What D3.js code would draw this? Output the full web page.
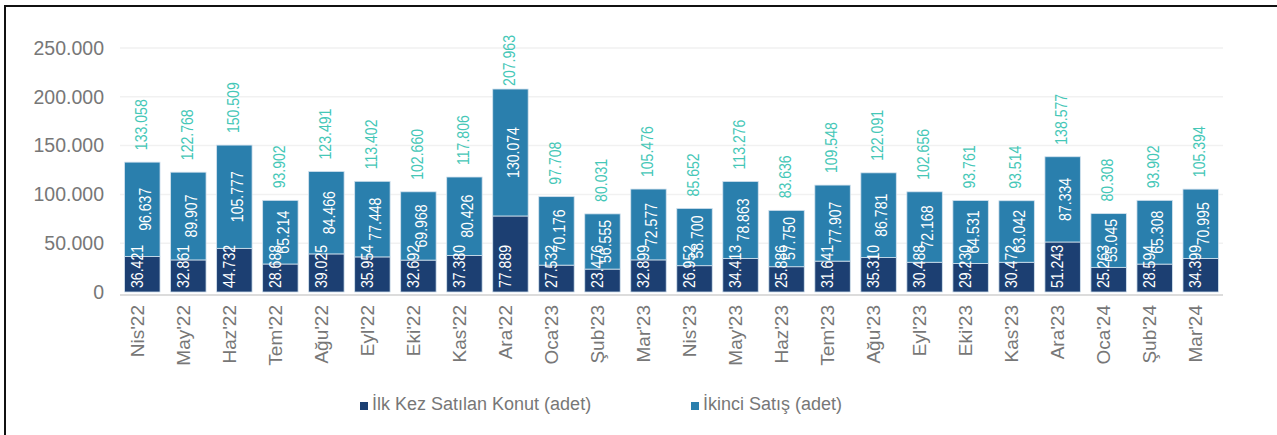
<!DOCTYPE html>
<html>
<head>
<meta charset="utf-8">
<script src="https://cdn.jsdelivr.net/npm/d3@7"></script>
<style>
  body { margin: 0; background: #fff; }
  svg { display: block; }
</style>
</head>
<body>
<svg id="chart"></svg>
<script>
// Data
const months = ["Nis'22", "May'22", "Haz'22", "Tem'22", "Ağu'22", "Eyl'22", "Eki'22", "Kas'22", "Ara'22",
  "Oca'23", "Şub'23", "Mar'23", "Nis'23", "May'23", "Haz'23", "Tem'23", "Ağu'23", "Eyl'23", "Eki'23",
  "Kas'23", "Ara'23", "Oca'24", "Şub'24", "Mar'24"];
const firstSales = [36421, 32861, 44732, 28688, 39025, 35954, 32692, 37380, 77889, 27532, 23476, 32899,
  26952, 34413, 25886, 31641, 35310, 30488, 29230, 30472, 51243, 25263, 28594, 34399];
const secondSales = [96637, 89907, 105777, 65214, 84466, 77448, 69968, 80426, 130074, 70176, 56555, 72577,
  58700, 78863, 57750, 77907, 86781, 72168, 64531, 63042, 87334, 55045, 65308, 70995];
const totals = [133058, 122768, 150509, 93902, 123491, 113402, 102660, 117806, 207963, 97708, 80031, 105476,
  85652, 113276, 83636, 109548, 122091, 102656, 93761, 93514, 138577, 80308, 93902, 105394];
const yTicks = [0, 50000, 100000, 150000, 200000, 250000];
const seriesNames = ["İlk Kez Satılan Konut (adet)", "İkinci Satış (adet)"];

const W = 1277, H = 435;
const colors = ["#1c3f72", "#2a7fad"];
const totalColor = "#45c7b7";

const tr = d3.formatLocale({decimal: ",", thousands: ".", grouping: [3], currency: ["", " TL"]});
const fmt = tr.format(",d");

const rows = months.map((m, i) => ({ month: m, first: firstSales[i], second: secondSales[i], total: totals[i] }));

const svg = d3.select("#chart")
    .attr("width", W)
    .attr("height", H);

// outer frame (only top and left edges are visible in the picture)
svg.append("path")
    .attr("d", `M5,${H} V6 H${W}`)
    .attr("fill", "none")
    .attr("stroke", "#111")
    .attr("stroke-width", 2);

const x = d3.scaleBand()
    .domain(months)
    .range([120, 1223])
    .paddingInner(0.23)
    .paddingOuter(0.1);

const y = d3.scaleLinear()
    .domain([0, 250000])
    .range([292, 48]);

// gridlines
svg.append("g")
    .selectAll("line")
    .data(yTicks.filter(d => d > 0))
    .join("line")
    .attr("x1", 120)
    .attr("x2", 1223)
    .attr("y1", d => y(d))
    .attr("y2", d => y(d))
    .attr("stroke", "#f1f1f1")
    .attr("stroke-width", 1.5);

// y axis labels
const yAxis = d3.axisLeft(y)
    .tickValues(yTicks)
    .tickSize(0)
    .tickPadding(0)
    .tickFormat(fmt);

svg.append("g")
    .attr("transform", "translate(104,0)")
    .call(yAxis)
    .call(g => g.select(".domain").remove())
    .selectAll("text")
    .attr("font-family", "Liberation Sans, Arial, sans-serif")
    .attr("font-size", 19.5)
    .attr("fill", "#777");

// stacked bars
const stack = d3.stack().keys(["first", "second"]);
const stacked = stack(rows);

svg.append("g")
    .selectAll("g")
    .data(stacked)
    .join("g")
    .attr("fill", (d, i) => colors[i])
    .selectAll("rect")
    .data(d => d)
    .join("rect")
    .attr("x", d => x(d.data.month))
    .attr("width", x.bandwidth())
    .attr("y", d => y(d[1]))
    .attr("height", d => y(d[0]) - y(d[1]))
    .attr("stroke", "#d3e2ee")
    .attr("stroke-width", 0.8);

// baseline
svg.append("line")
    .attr("x1", 120)
    .attr("x2", 1223)
    .attr("y1", 295)
    .attr("y2", 295)
    .attr("stroke", "#dcdcdc")
    .attr("stroke-width", 2);

// no narrow font installed, so squeeze a regular one along the text direction
const labelFont = "Liberation Sans, Arial, sans-serif";
const sq = 0.88;
const cx = d => x(d.month) + x.bandwidth() / 2;

// labels for the dark segment (from the bottom)
svg.append("g")
    .selectAll("text")
    .data(rows)
    .join("text")
    .attr("transform", d => `translate(${cx(d) + 0.5},${y(0) - 4}) rotate(-90) scale(${sq},1)`)
    .attr("text-anchor", "start")
    .attr("font-family", labelFont)
    .attr("font-size", 16)
    .attr("fill", "#fff")
    .text(d => fmt(d.first));

// labels for the light segment (centred)
svg.append("g")
    .selectAll("text")
    .data(rows)
    .join("text")
    .attr("transform", d => `translate(${cx(d) + 8.5},${y(d.first + d.second / 2)}) rotate(-90) scale(${sq},1)`)
    .attr("text-anchor", "middle")
    .attr("font-family", labelFont)
    .attr("font-size", 16)
    .attr("fill", "#fff")
    .text(d => fmt(d.second));

// totals above the bars, kept inside the top of the plot
const plotTop = 35;
svg.append("g")
    .selectAll("text")
    .data(rows)
    .join("text")
    .attr("text-anchor", "start")
    .attr("font-family", labelFont)
    .attr("font-size", 16)
    .attr("fill", totalColor)
    .text(d => fmt(d.total))
    .attr("transform", function(d) {
      const len = this.getComputedTextLength() * sq;
      const base = Math.max(y(d.first + d.second) - 12, plotTop + len);
      return `translate(${cx(d) + 4.5},${base}) rotate(-90) scale(${sq},1)`;
    });

// x axis labels
svg.append("g")
    .selectAll("text")
    .data(months)
    .join("text")
    .attr("transform", d => `translate(${x(d) + x.bandwidth() / 2 + 1.5},305) rotate(-90)`)
    .attr("text-anchor", "end")
    .attr("font-family", "Liberation Sans, Arial, sans-serif")
    .attr("font-size", 19)
    .attr("fill", "#777")
    .text(d => d);

// legend
const legendX = [360, 691];
const legend = svg.append("g")
    .selectAll("g")
    .data(seriesNames)
    .join("g")
    .attr("transform", (d, i) => `translate(${legendX[i]},402)`);

legend.append("rect")
    .attr("width", 8)
    .attr("height", 8)
    .attr("fill", (d, i) => colors[i]);

legend.append("text")
    .attr("x", 12)
    .attr("y", 8)
    .attr("font-family", "Liberation Sans, Arial, sans-serif")
    .attr("font-size", 18)
    .attr("fill", "#777")
    .text(d => d);
</script>
</body>
</html>
